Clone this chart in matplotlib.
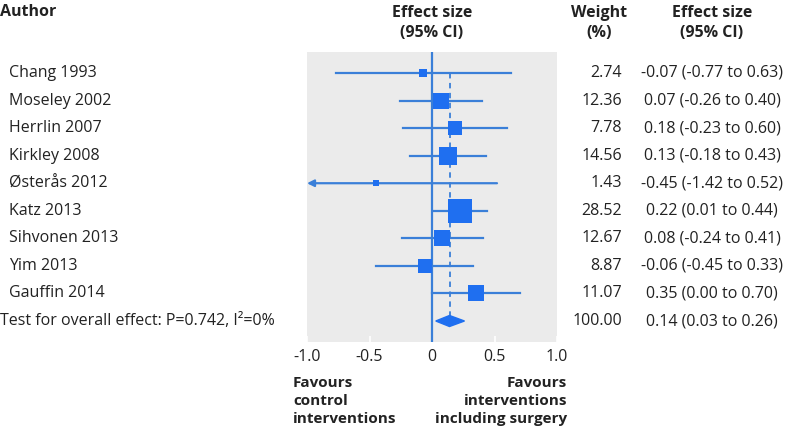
import numpy as np
import matplotlib
matplotlib.use('Agg')
import matplotlib.pyplot as plt
from matplotlib.patches import Polygon
from matplotlib.transforms import blended_transform_factory

plt.rcParams['font.family'] = ['Open Sans', 'DejaVu Sans']

studies = ['Chang 1993', 'Moseley 2002', 'Herrlin 2007', 'Kirkley 2008', 'Østerås 2012',
           'Katz 2013', 'Sihvonen 2013', 'Yim 2013', 'Gauffin 2014']
effect = [-0.07, 0.07, 0.18, 0.13, -0.45, 0.22, 0.08, -0.06, 0.35]
lower = [-0.77, -0.26, -0.23, -0.18, -1.42, 0.01, -0.24, -0.45, 0.00]
upper = [0.63, 0.40, 0.60, 0.43, 0.52, 0.44, 0.41, 0.33, 0.70]
weight = [2.74, 12.36, 7.78, 14.56, 1.43, 28.52, 12.67, 8.87, 11.07]
overall = (0.14, 0.03, 0.26)
overall_label = 'Test for overall effect: P=0.742, I\u00b2=0%'

line_col = '#3a7fd8'
box_col = '#1f6ff0'
txt_col = '#222222'

fig = plt.figure(figsize=(7.9, 4.33), dpi=100)
W, H = 790, 433
ax = fig.add_axes([307 / W, 1 - 342 / H, 250 / W, 290 / H])
ax.set_facecolor('#ebebeb')
for s in ax.spines.values():
    s.set_visible(False)

n = len(studies)
rows = np.arange(n)
ax.set_xlim(-1, 1)
ax.set_ylim(n + 0.762, -0.762)

ax.axvline(0, color=line_col, lw=1.6, zorder=2)
ax.plot([overall[0], overall[0]], [0, n], color=line_col, lw=1.3, ls=(0, (3, 2.5)), zorder=2)

for i in rows:
    lo = max(lower[i], -1)
    if lower[i] < -1:
        ax.annotate('', xy=(-1, i), xytext=(upper[i], i),
                    arrowprops=dict(arrowstyle='-|>', color=line_col, lw=1.6,
                                    mutation_scale=10, shrinkA=0, shrinkB=0), zorder=3)
    else:
        ax.plot([lo, upper[i]], [i, i], color=line_col, lw=1.6, zorder=3)
    ax.plot(effect[i], i, marker='s', color=box_col, mew=0,
            markersize=3.37 * np.sqrt(weight[i]), zorder=4)

e, l, u = overall
ax.add_patch(Polygon([[l, n], [e, n - 0.2], [u, n], [e, n + 0.2]],
                     closed=True, color=box_col, zorder=4))

ax.set_yticks([])
ax.set_xticks([-1, -0.5, 0, 0.5, 1])
ax.set_xticklabels(['-1.0', '-0.5', '0', '0.5', '1.0'])
ax.tick_params(axis='x', direction='in', color='white', length=4, width=1.2,
               labelsize=11.5, labelcolor=txt_col, pad=5)

# text columns
tr = blended_transform_factory(fig.transFigure, ax.transData)
fs = 11.5
for i in rows:
    fig.text(9 / W, i, studies[i], transform=tr, fontsize=fs, va='center', ha='left', color=txt_col)
    fig.text(622 / W, i, f'{weight[i]:.2f}', transform=tr, fontsize=fs, va='center', ha='right', color=txt_col)
    fig.text(712 / W, i, f'{effect[i]:.2f} ({lower[i]:.2f} to {upper[i]:.2f})', transform=tr,
             fontsize=fs, va='center', ha='center', color=txt_col)
fig.text(0, n, overall_label, transform=tr, fontsize=fs, va='center', ha='left', color=txt_col)
fig.text(622 / W, n, '100.00', transform=tr, fontsize=fs, va='center', ha='right', color=txt_col)
fig.text(712 / W, n, f'{e:.2f} ({l:.2f} to {u:.2f})', transform=tr,
         fontsize=fs, va='center', ha='center', color=txt_col)

# headers
hk = dict(fontsize=11.5, fontweight='bold', color=txt_col, va='center')
fig.text(0, 1 - 12 / H, 'Author', ha='left', **hk)
fig.text(432 / W, 1 - 23 / H, 'Effect size\n(95% CI)', ha='center', linespacing=1.35, **hk)
fig.text(599 / W, 1 - 23 / H, 'Weight\n(%)', ha='center', linespacing=1.35, **hk)
fig.text(712 / W, 1 - 23 / H, 'Effect size\n(95% CI)', ha='center', linespacing=1.35, **hk)

bk = dict(fontsize=11, fontweight='bold', color=txt_col, va='center')
fig.text(293 / W, 1 - 401 / H, 'Favours\ncontrol\ninterventions', ha='left', linespacing=1.38, **bk)
fig.text(567 / W, 1 - 401 / H, 'Favours\ninterventions\nincluding surgery', ha='right',
         multialignment='right', linespacing=1.38, **bk)

fig.savefig('out.png', dpi=100)
